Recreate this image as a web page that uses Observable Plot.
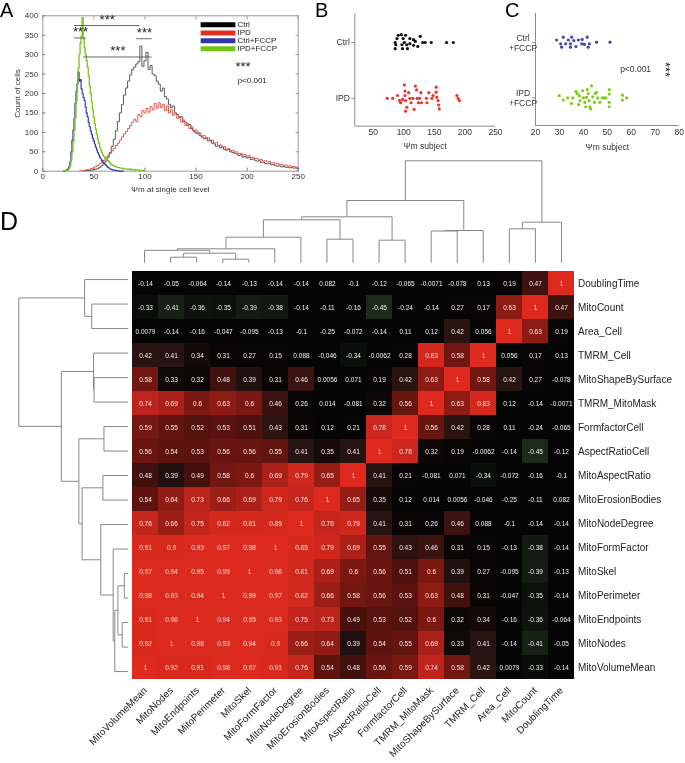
<!DOCTYPE html>
<html><head><meta charset="utf-8">
<script src="https://cdn.jsdelivr.net/npm/d3@7"></script>
<script src="https://cdn.jsdelivr.net/npm/@observablehq/plot@0.6"></script>
<style>
html,body{margin:0;padding:0;background:#fff;}
#root{position:relative;width:685px;height:763px;overflow:hidden;font-family:"Liberation Sans",Arial,sans-serif;}
#root svg{position:absolute;overflow:visible;max-width:none;will-change:transform;}
</style></head>
<body><div id="root"></div>
<script>
// ---------- Panel A: histograms (bin start, bin width, counts) ----------
const ctrlStart = 40, ctrlStep = 2;
const ctrlCounts = [1,1,2,2,3,4,5,7,10,14,
 20,26,36,48,64,82,104,128,150,172,
 196,214,232,248,262,268,276,282,322,270,
 284,306,262,272,250,246,232,224,206,214,
 192,186,172,164,168,150,146,138,140,128,
 126,118,120,110,104,98,100,92,88,84,
 86,78,80,72,70,64,66,60,62,56,
 54,56,50,48,46,44,40,42,36,38,
 34,36,30,32,28,26,27,22,24,20,
 19,20,16,17,14,13,14,11,12,10,
 10,9,9,8,8,7];
const ipdStart = 36, ipdStep = 2;
const ipdCounts = [1,2,2,3,4,5,7,9,12,15,
 19,24,28,34,40,46,52,58,66,72,
 80,88,96,102,110,118,126,134,128,146,
 140,156,150,162,152,166,158,174,162,176,
 164,172,156,168,150,158,144,148,136,140,
 126,132,118,122,110,114,102,106,96,98,
 90,92,84,86,78,80,72,74,66,68,
 62,63,57,58,53,54,49,50,45,46,
 42,43,39,40,35,36,32,33,29,30,
 26,27,24,25,21,22,19,20,17,18,
 15,16,13,14,12,12,10,11];
const ctrlFccpStart = 20, ctrlFccpStep = 1;
const ctrlFccpCounts = [0,0,1,2,4,7,12,25,50,80,
 105,135,175,205,225,255,232,236,212,200,
 190,182,165,150,140,125,115,104,95,85,
 78,70,62,55,48,42,36,32,27,23,
 20,18,15,12,10,8,6,5,4,3,
 3,2,2,1,1,1,0,0,0,0];
const ipdFccpStart = 20, ipdFccpStep = 1;
const ipdFccpCounts = [0,0,1,1,2,4,8,15,30,50,
 75,105,139,180,225,265,302,330,348,395,
 340,318,300,285,268,245,220,200,178,158,
 139,122,108,95,82,72,62,55,48,42,
 38,35,32,30,27,24,21,18,16,15,
 14,12,11,10,9,9,8,8,7,7,
 6,6,6,5,5,5,4,5,4,4,
 3,4,3,3,2,3,2,2,2,1];
const aXTicks = [0,50,100,150,200,250];
const aYTicks = [0,50,100,150,200,250,300,350,400];
const legendNames = ["Ctrl","IPD","Ctrl+FCCP","IPD+FCCP"];
// significance brackets (Ψm from, Ψm to, count level)
const sigX1 = [31,31,92,40];
const sigX2 = [95,43,107,107];
const sigY  = [375,343,341,294];

// ---------- Panels B and C: per-subject Ψm with vertical jitter ----------
const bCats = ["IPD","Ctrl"];
const bCtrlVal = [91,96,103,127,89,99,110,116,86,101,110,119,131,135,145,170,181,87,97,105,116,123,86,98,106];
const bCtrlJit = [0.13,0.14,0.13,0.11,0.07,0.07,0.07,0.05,0,0,-0.02,0.02,0,0,0,0,0,-0.04,-0.04,-0.04,-0.05,-0.07,-0.11,-0.11,-0.11];
const bIpdVal = [73,82,90,93,95,98,101,102,102,103,105,103,108,110,112,115,117,119,121,122,124,126,128,129,137,138,141,146,148,153,153,154,156,157,158,187,189,191];
const bIpdJit = [0,0,0.05,-0.04,-0.08,-0.02,0.24,0.13,0.05,-0.04,-0.16,-0.23,0.1,0,-0.08,0,-0.2,0.22,0.15,0,-0.08,0,0.1,-0.08,0,-0.08,0.1,0,0.05,0.2,0.11,0.02,-0.04,-0.12,-0.19,0.05,0,-0.04];
const bXTicks = [50,100,150,200,250];
const cCats = ["IPD\n+FCCP","Ctrl\n+FCCP"];
const cCtrlVal = [28.8,31.6,33.7,35.1,36,37.9,39.5,41.6,30.5,32.6,34.6,39.3,40.4,42.5,45.5,51.1,30.9,34.6,36.9,42];
const cCtrlJit = [0.05,0.1,0.05,0.1,0.04,0.05,0.06,0.1,-0.02,-0.02,-0.02,-0.02,-0.03,-0.02,0.01,0.01,-0.08,-0.08,-0.07,-0.08];
const cIpdVal = [29.9,31.6,33.4,35.6,36.9,37.4,38.3,38.6,38,40,40.6,41.6,42,42.4,42.7,43.4,43.9,44.6,45.5,46,46.9,47.9,49.4,50.8,50.8,50.8,50.8,56.3,56.3,58.1,35,39.7,41,41.3,44.9,43,48.7];
const cIpdJit = [0.04,-0.04,0,0,0.12,0.08,0.04,-0.05,-0.12,0,-0.08,0.15,0.08,-0.05,-0.16,0.22,0.02,-0.08,0.1,0,-0.08,0,0,0.15,0.07,-0.08,-0.16,0.05,-0.04,0,-0.1,0.13,-0.16,0.01,0.08,-0.2,0];
const cXTicks = [20,30,40,50,60,70,80];

// ---------- Panel D: correlation matrix ----------
const colVars = ["MitoVolumeMean","MitoNodes","MitoEndpoints","MitoPerimeter","MitoSkel","MitoFormFactor","MitoNodeDegree","MitoErosionBodies","MitoAspectRatio","AspectRatioCell","FormfactorCell","TMRM_MitoMask","MitoShapeBySurface","TMRM_Cell","Area_Cell","MitoCount","DoublingTime"];
const rowVars = colVars.slice().reverse();
const rDoublingTime      = [-0.14,-0.05,-0.064,-0.14,-0.13,-0.14,-0.14,0.082,-0.1,-0.12,-0.065,-0.0071,-0.078,0.13,0.19,0.47,1];
const rMitoCount         = [-0.33,-0.41,-0.36,-0.35,-0.39,-0.38,-0.14,-0.11,-0.16,-0.45,-0.24,-0.14,0.27,0.17,0.63,1,0.47];
const rAreaCell          = [0.0079,-0.14,-0.16,-0.047,-0.095,-0.13,-0.1,-0.25,-0.072,-0.14,0.11,0.12,0.42,0.056,1,0.63,0.19];
const rTMRMCell          = [0.42,0.41,0.34,0.31,0.27,0.15,0.088,-0.046,-0.34,-0.0062,0.28,0.83,0.58,1,0.056,0.17,0.13];
const rMitoShapeBySurf   = [0.58,0.33,0.32,0.48,0.39,0.31,0.46,0.0056,0.071,0.19,0.42,0.63,1,0.58,0.42,0.27,-0.078];
const rTMRMMitoMask      = [0.74,0.69,0.6,0.63,0.6,0.46,0.26,0.014,-0.081,0.32,0.56,1,0.63,0.83,0.12,-0.14,-0.0071];
const rFormfactorCell    = [0.59,0.55,0.52,0.53,0.51,0.43,0.31,0.12,0.21,0.78,1,0.56,0.42,0.28,0.11,-0.24,-0.065];
const rAspectRatioCell   = [0.56,0.54,0.53,0.56,0.56,0.55,0.41,0.35,0.41,1,0.78,0.32,0.19,-0.0062,-0.14,-0.45,-0.12];
const rMitoAspectRatio   = [0.48,0.39,0.49,0.58,0.6,0.69,0.79,0.65,1,0.41,0.21,-0.081,0.071,-0.34,-0.072,-0.16,-0.1];
const rMitoErosionBodies = [0.54,0.64,0.73,0.66,0.69,0.79,0.76,1,0.65,0.35,0.12,0.014,0.0056,-0.046,-0.25,-0.11,0.082];
const rMitoNodeDegree    = [0.76,0.66,0.75,0.82,0.81,0.85,1,0.76,0.79,0.41,0.31,0.26,0.46,0.088,-0.1,-0.14,-0.14];
const rMitoFormFactor    = [0.91,0.9,0.93,0.97,0.98,1,0.85,0.79,0.69,0.55,0.43,0.46,0.31,0.15,-0.13,-0.38,-0.14];
const rMitoSkel          = [0.97,0.94,0.95,0.99,1,0.98,0.81,0.69,0.6,0.56,0.51,0.6,0.39,0.27,-0.095,-0.39,-0.13];
const rMitoPerimeter     = [0.98,0.93,0.94,1,0.99,0.97,0.82,0.66,0.58,0.56,0.53,0.63,0.48,0.31,-0.047,-0.35,-0.14];
const rMitoEndpoints     = [0.91,0.98,1,0.94,0.95,0.93,0.75,0.73,0.49,0.53,0.52,0.6,0.32,0.34,-0.16,-0.36,-0.064];
const rMitoNodes         = [0.92,1,0.98,0.93,0.94,0.9,0.66,0.64,0.39,0.54,0.55,0.69,0.33,0.41,-0.14,-0.41,-0.05];
const rMitoVolumeMean    = [1,0.92,0.91,0.98,0.97,0.91,0.76,0.54,0.48,0.56,0.59,0.74,0.58,0.42,0.0079,-0.33,-0.14];
const corrRows = [rDoublingTime,rMitoCount,rAreaCell,rTMRMCell,rMitoShapeBySurf,rTMRMMitoMask,rFormfactorCell,rAspectRatioCell,rMitoAspectRatio,rMitoErosionBodies,rMitoNodeDegree,rMitoFormFactor,rMitoSkel,rMitoPerimeter,rMitoEndpoints,rMitoNodes,rMitoVolumeMean];
// hierarchical clustering: merges of node a with node b at linkage height (leaves 0..16 = colVars, new nodes 17..)
const mergeA = [3,1,18,0,20,9,7,21,14,11,26,25,24,29,30,31];
const mergeB = [4,2,17,19,5,10,8,6,15,12,13,16,23,22,27,28];
const mergeH = [3.6,5.6,9.6,12.5,14,22.6,23.6,25.6,34,31.8,32.3,40.6,43,46,62.3,102];
const colorStops = [-1,-0.3,0.3,0.42,0.5,0.6,0.7,0.8,1];
const colorRange = ["#70b068","#050505","#070505","#2a1412","#4a100c","#7c1812","#b0221a","#d2281c","#de2a1e"];

// ---------- build ----------
const FONT = "Liberation Sans, Arial, Helvetica, sans-serif";
const root = document.getElementById("root");
function place(node, left, top) { node.style.left = left + "px"; node.style.top = top + "px"; root.appendChild(node); }
const baseStyle = (fs) => ({fontFamily: FONT, fontSize: fs + "px", color: "#333", background: "transparent", overflow: "visible"});
const series = (start, step, counts) => counts.map((c, i) => ({x: start + i * step, y: c}));

// Panel A
const aW = 310, aH = 200, aL = 42.3, aR = 12.3, aT = 15.3, aB = 29.3;
const legendColors = ["#000000","#e0301f","#3535a8","#74c414"];
const legendRows = [377,356,336,315];
const legendData = legendNames.map((n, i) => ({n, c: legendColors[i], y: legendRows[i]}));
const sigData = sigX1.map((x1, i) => ({x1, x2: sigX2[i], y: sigY[i], mx: (x1 + sigX2[i]) / 2}));
const plotA = Plot.plot({
  width: aW, height: aH, marginLeft: aL, marginRight: aR, marginTop: aT, marginBottom: aB,
  style: baseStyle(8),
  x: {domain: [0, 250], axis: null}, y: {domain: [0, 400], axis: null},
  marks: [
    Plot.frame({stroke: "#9a9a9a"}),
    Plot.axisX({ticks: aXTicks, tickSize: -3, tickPadding: 5, stroke: "#777", fontSize: 8, label: "Ψm at single cell level", labelAnchor: "center", labelArrow: "none", labelOffset: 21}),
    Plot.axisX({anchor: "top", ticks: aXTicks, tickSize: -3, tickFormat: () => "", stroke: "#999", label: null}),
    Plot.axisY({ticks: aYTicks, tickSize: -3, tickPadding: 7.6, stroke: "#777", fontSize: 8, label: "Count of cells", labelAnchor: "center", labelArrow: "none", labelOffset: 28}),
    Plot.axisY({anchor: "right", ticks: aYTicks, tickSize: -3, tickFormat: () => "", stroke: "#999", label: null}),
    Plot.lineY(series(ctrlStart, ctrlStep, ctrlCounts), {x: "x", y: "y", curve: "step", stroke: "#4a4a4a", strokeWidth: 0.9}),
    Plot.lineY(series(ipdStart, ipdStep, ipdCounts), {x: "x", y: "y", curve: "step", stroke: "#e8473c", strokeWidth: 0.9}),
    Plot.lineY(series(ctrlFccpStart, ctrlFccpStep, ctrlFccpCounts), {x: "x", y: "y", curve: "step", stroke: "#3b3bb0", strokeWidth: 1.2}),
    Plot.lineY(series(ipdFccpStart, ipdFccpStep, ipdFccpCounts), {x: "x", y: "y", curve: "step", stroke: "#7bc41c", strokeWidth: 1.3}),
    Plot.ruleY(sigData, {y: "y", x1: "x1", x2: "x2", stroke: "#444", strokeWidth: 0.8}),
    Plot.text(sigData, {x: "mx", y: "y", text: () => "***", dy: -6, fontSize: 13, fill: "#222"}),
    Plot.ruleY(legendData, {y: "y", x1: 155, x2: 189, stroke: "c", strokeWidth: 5}),
    Plot.text(legendData, {y: "y", x: 190.5, text: "n", textAnchor: "start", fontSize: 8, fill: "#222"}),
    Plot.text(["***"], {x: 196, y: 268, text: d => d, fontSize: 13, fill: "#222"}),
    Plot.text(["p<0.001"], {x: 205, y: 233, text: d => d, fontSize: 8, fill: "#222"})
  ]
});
place(plotA, 0, 0);

// Panel B
const bData = bCtrlVal.map((v, i) => ({v, y: 1 + bCtrlJit[i], g: "Ctrl"})).concat(bIpdVal.map((v, i) => ({v, y: bIpdJit[i], g: "IPD"})));
const plotB = Plot.plot({
  width: 190, height: 160, marginLeft: 44.3, marginRight: 5, marginTop: 13, marginBottom: 34.3,
  style: baseStyle(8.5),
  x: {domain: [20, 250], axis: null}, y: {domain: [-0.5, 1.52], axis: null},
  color: {domain: ["Ctrl","IPD"], range: ["#111111","#e8352b"]},
  marks: [
    Plot.ruleX([20], {stroke: "#8a8a8a"}),
    Plot.ruleY([-0.5], {stroke: "#8a8a8a"}),
    Plot.axisX({ticks: bXTicks, tickSize: 0, tickPadding: 3, fontSize: 8.5, label: "Ψm subject", labelAnchor: "center", labelArrow: "none", labelOffset: 23}),
    Plot.axisY({ticks: [0, 1], tickFormat: d => bCats[d], tickSize: 3, tickPadding: 2, stroke: "#8a8a8a", fontSize: 8.5, label: null}),
    Plot.dot(bData, {x: "v", y: "y", fill: "g", r: 1.6})
  ]
});
place(plotB, 310, 0);

// Panel C
const cData = cCtrlVal.map((v, i) => ({v, y: 1 + cCtrlJit[i], g: "Ctrl"})).concat(cIpdVal.map((v, i) => ({v, y: cIpdJit[i], g: "IPD"})));
const plotC = Plot.plot({
  width: 185, height: 160, marginLeft: 35, marginRight: 6.3, marginTop: 13, marginBottom: 35,
  style: baseStyle(8.5),
  x: {domain: [20, 80], axis: null}, y: {domain: [-0.5, 1.53], axis: null},
  color: {domain: ["Ctrl","IPD"], range: ["#4646b4","#7ccf16"]},
  marks: [
    Plot.ruleX([20], {stroke: "#8a8a8a"}),
    Plot.ruleY([-0.5], {stroke: "#8a8a8a"}),
    Plot.axisX({ticks: cXTicks, tickSize: 0, tickPadding: 3, fontSize: 8.5, label: "Ψm subject", labelAnchor: "center", labelArrow: "none", labelOffset: 24}),
    Plot.axisY({ticks: [0, 1], tickFormat: d => cCats[d], tickSize: 3, tickPadding: 9.5, textAnchor: "middle", lineHeight: 1.2, stroke: "#8a8a8a", fontSize: 8.5, label: null}),
    Plot.dot(cData, {x: "v", y: "y", fill: "g", r: 1.6}),
    Plot.text(["p<0.001"], {x: 61.8, y: 0.515, text: d => d, fontSize: 8.5, fill: "#333"}),
    Plot.text(["***"], {x: 74, y: 0.515, text: d => d, rotate: 90, fontSize: 13, fill: "#222"})
  ]
});
place(plotC, 500, 0);

// Dendrogram segments
function dendroSegments(n, A, B, H) {
  const pos = d3.range(n), ht = new Array(n).fill(0), segs = [];
  A.forEach((a, k) => {
    const b = B[k], h = H[k];
    segs.push({p1: pos[a], h1: ht[a], p2: pos[a], h2: h});
    segs.push({p1: pos[b], h1: ht[b], p2: pos[b], h2: h});
    segs.push({p1: pos[a], h1: h, p2: pos[b], h2: h});
    pos.push((pos[a] + pos[b]) / 2); ht.push(h);
  });
  return segs;
}
const segs = dendroSegments(colVars.length, mergeA, mergeB, mergeH);
const hMax = d3.max(mergeH);

const hmL = 131, hmR = 111, hmT = 6.8, hmB = 79.7, hmTop = 260;
const plotTop = Plot.plot({
  width: 685, height: 115, marginLeft: hmL, marginRight: hmR, marginTop: 10.3, marginBottom: 2.7,
  style: baseStyle(8),
  x: {domain: [-0.5, colVars.length - 0.5], axis: null}, y: {domain: [0, hMax], axis: null},
  marks: [Plot.link(segs, {x1: "p1", y1: "h1", x2: "p2", y2: "h2", stroke: "#878787", strokeWidth: 1})]
});
place(plotTop, 0, 150);

const plotLeft = Plot.plot({
  width: hmL, height: 503, marginLeft: 18.3, marginRight: 3.3, marginTop: hmT, marginBottom: hmB,
  style: baseStyle(8),
  x: {domain: [hMax, 0], axis: null}, y: {domain: [-0.5, colVars.length - 0.5], axis: null},
  marks: [Plot.link(segs, {x1: "h1", y1: "p1", x2: "h2", y2: "p2", stroke: "#878787", strokeWidth: 1})]
});
place(plotLeft, 0, hmTop);

// Heatmap
const cells = [];
rowVars.forEach((r, i) => colVars.forEach((c, j) => cells.push({row: r, col: c, v: corrRows[i][j]})));
const plotHM = Plot.plot({
  width: 685, height: 503, marginLeft: hmL, marginRight: hmR, marginTop: hmT, marginBottom: hmB,
  style: baseStyle(10),
  x: {domain: colVars, padding: 0, axis: null}, y: {domain: rowVars, padding: 0, axis: null},
  color: {type: "linear", domain: colorStops, range: colorRange, interpolate: "rgb"},
  marks: [
    Plot.cell(cells, {x: "col", y: "row", fill: "v"}),
    Plot.text(cells, {x: "col", y: "row", text: d => String(d.v), fill: "#f0f0f0", fontSize: 6.5}),
    Plot.axisY({anchor: "right", tickSize: 0, tickPadding: 3.5, fontSize: 10, fill: "#222", label: null}),
    Plot.axisX({anchor: "bottom", tickSize: 0, tickPadding: 5, tickRotate: -45, fontSize: 10, fill: "#222", label: null})
  ]
});
place(plotHM, 0, hmTop);

// Panel letters
const ov = d3.create("svg").attr("width", 685).attr("height", 763).style("left", "0px").style("top", "0px").style("pointer-events", "none");
[["A", 0, 17.3, 20], ["B", 315, 17.3, 20], ["C", 505, 17.3, 20], ["D", 0, 230, 25]].forEach(([t, x, y, s]) => {
  ov.append("text").attr("x", x).attr("y", y).attr("font-family", FONT).attr("font-size", s).attr("fill", "#000").text(t);
});
root.appendChild(ov.node());
</script></body></html>
